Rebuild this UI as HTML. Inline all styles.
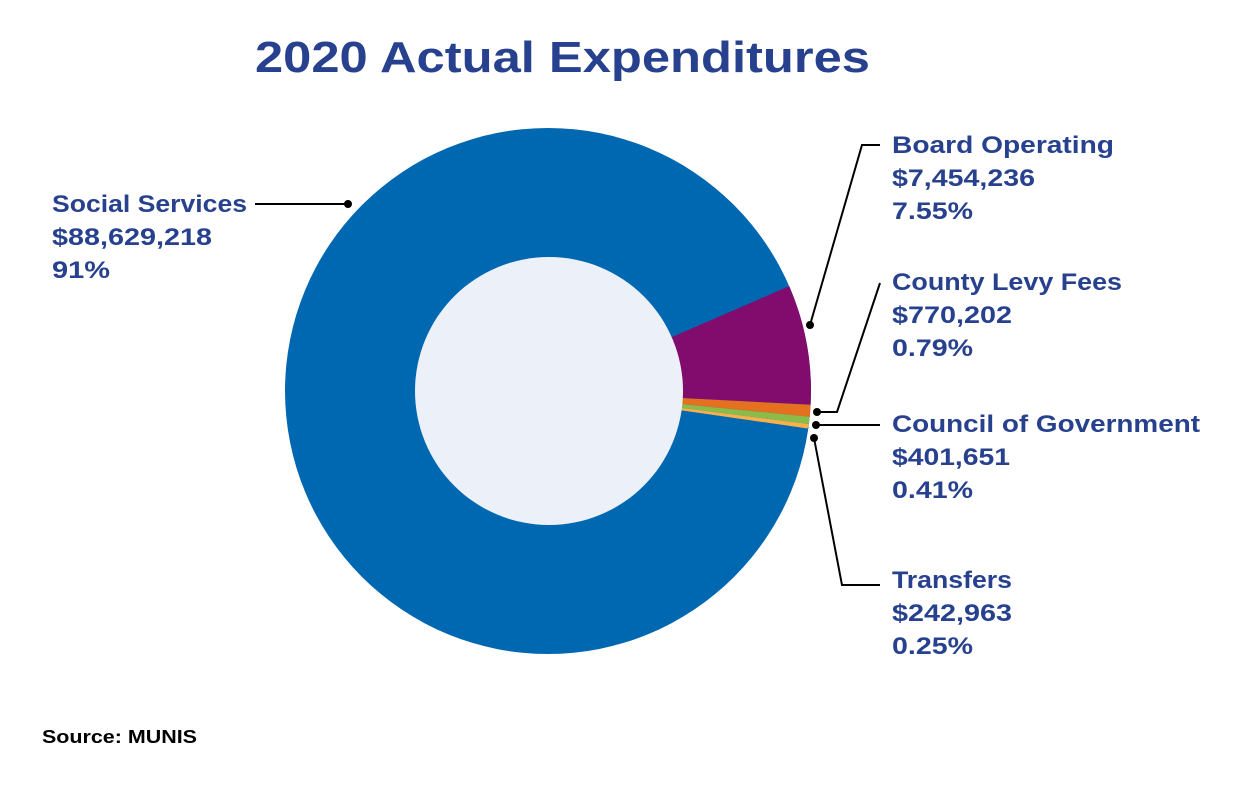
<!DOCTYPE html><html><head><style>body{margin:0;background:#fff}svg{display:block}text{font-family:"Liberation Sans",sans-serif}</style></head><body>
<svg width="1238" height="800" viewBox="0 0 1238 800">
<text x="255" y="72" font-size="44" font-weight="bold" fill="#27418f" textLength="615" lengthAdjust="spacingAndGlyphs">2020 Actual Expenditures</text>
<circle cx="548" cy="391" r="263" fill="#0067b1"/>
<path d="M548,391 L789.2,286.1 A263,263 0 0 1 810.6,404.8 Z" fill="#820c6e"/>
<path d="M548,391 L810.6,404.8 A263,263 0 0 1 809.7,416.7 Z" fill="#e5701f"/>
<path d="M548,391 L809.7,416.7 A263,263 0 0 1 808.9,424.0 Z" fill="#8bbb48"/>
<path d="M548,391 L808.9,424.0 A263,263 0 0 1 807.5,428.5 Z" fill="#f7b04a"/>
<circle cx="549" cy="391" r="134" fill="#ecf1f9"/>
<g stroke="#000" stroke-width="2" fill="none">
<polyline points="348,204 255,204"/>
<polyline points="810,325 862,145 880,145"/>
<polyline points="817,412 837,412 880,283"/>
<polyline points="816,425 880,425"/>
<polyline points="814,438 842,585 880,585"/>
</g>
<g fill="#000"><circle cx="348" cy="204" r="4"/><circle cx="810" cy="325" r="4"/><circle cx="817" cy="412" r="4"/><circle cx="816" cy="425" r="4"/><circle cx="814" cy="438" r="4"/></g>
<g fill="#27418f" font-size="24" font-weight="bold" lengthAdjust="spacingAndGlyphs">
<text x="52" y="212" textLength="195" lengthAdjust="spacingAndGlyphs">Social Services</text><text x="52" y="245" textLength="160" lengthAdjust="spacingAndGlyphs">$88,629,218</text><text x="52" y="278" textLength="58" lengthAdjust="spacingAndGlyphs">91%</text>
<text x="892" y="153" textLength="222" lengthAdjust="spacingAndGlyphs">Board Operating</text><text x="892" y="186" textLength="143" lengthAdjust="spacingAndGlyphs">$7,454,236</text><text x="892" y="219" textLength="81" lengthAdjust="spacingAndGlyphs">7.55%</text>
<text x="892" y="290" textLength="230" lengthAdjust="spacingAndGlyphs">County Levy Fees</text><text x="892" y="323" textLength="120" lengthAdjust="spacingAndGlyphs">$770,202</text><text x="892" y="356" textLength="81" lengthAdjust="spacingAndGlyphs">0.79%</text>
<text x="892" y="432" textLength="308" lengthAdjust="spacingAndGlyphs">Council of Government</text><text x="892" y="465" textLength="118" lengthAdjust="spacingAndGlyphs">$401,651</text><text x="892" y="498" textLength="81" lengthAdjust="spacingAndGlyphs">0.41%</text>
<text x="892" y="588" textLength="120" lengthAdjust="spacingAndGlyphs">Transfers</text><text x="892" y="621" textLength="120" lengthAdjust="spacingAndGlyphs">$242,963</text><text x="892" y="654" textLength="81" lengthAdjust="spacingAndGlyphs">0.25%</text>
</g>
<text x="42" y="743" font-size="18" font-weight="bold" fill="#000" textLength="155" lengthAdjust="spacingAndGlyphs">Source: MUNIS</text>
</svg></body></html>
